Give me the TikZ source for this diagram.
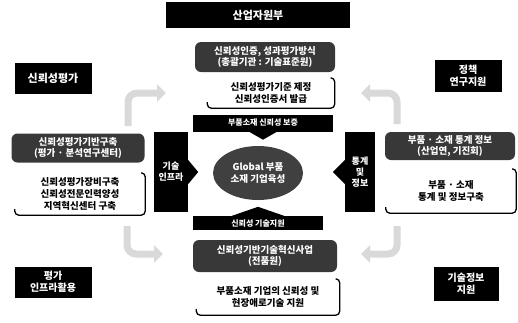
\documentclass[tikz,border=0pt]{standalone}
\usepackage{fontspec}
\setmainfont{Noto Sans CJK KR}
\usetikzlibrary{arrows.meta,shapes.geometric}
\begin{document}
\begin{tikzpicture}[x=1pt,y=-1pt,
  blk/.style={fill=black,text=white,font=\bfseries\fontsize{10}{12}\selectfont,align=center,inner sep=1pt},
  dk/.style={fill=black!78,rounded corners=6pt,text=white,font=\bfseries\fontsize{9.5}{11.5}\selectfont,align=center,inner sep=1pt},
  wt/.style={align=center,font=\bfseries\fontsize{9.5}{12}\selectfont,inner sep=1pt},
  brk/.style={draw=black,line width=1.3pt,rounded corners=4pt},
  barbox/.style={fill=black,text=white,font=\bfseries\fontsize{8}{10}\selectfont,inner sep=1pt},
  carr/.style={draw=gray!30,line width=7pt,rounded corners=9pt,-{Triangle[width=17pt,length=9pt]}}
]
\useasboundingbox (0,0) rectangle (518,322);

% centre column
\node[blk,minimum width=184pt,minimum height=26pt,font=\bfseries\fontsize{11}{13}\selectfont] (title) at (258,15) {산업자원부};
\node[dk,minimum width=140pt,minimum height=30pt] (tdk) at (265,57) {신뢰성인증, 성과평가방식\\(총괄기관 : 기술표준원)};
\node[wt,minimum width=127pt,minimum height=30pt] (twt) at (271,93) {신뢰성평가기준 제정\\신뢰성인증서 발급};
\node[barbox,minimum width=140pt,minimum height=17pt] (tbar) at (263,123) {부품소재 신뢰성 보증};
\fill ([xshift=-14pt]tbar.south) -- ([xshift=14pt]tbar.south) -- ([yshift=-8pt]tbar.south) -- cycle;

\node[blk,minimum width=34pt,minimum height=80pt,font=\bfseries\fontsize{9}{11}\selectfont] (lv) at (171,172) {기술\\인프라};
\fill ([yshift=12pt]lv.east) -- ([xshift=10pt]lv.east) -- ([yshift=-12pt]lv.east) -- cycle;
\node[blk,minimum width=30pt,minimum height=80pt,font=\bfseries\fontsize{9}{11}\selectfont] (rv) at (360,172) {통계\\및\\정보};
\fill ([yshift=12pt]rv.west) -- ([xshift=-12pt]rv.west) -- ([yshift=-12pt]rv.west) -- cycle;

\node[ellipse,fill=black!75,minimum width=90pt,minimum height=54pt,inner sep=0pt] (core) at (258,173) {};
\node[text=white,align=center,font=\bfseries\fontsize{9.5}{12}\selectfont,inner sep=0pt] (coretxt) at (core) {Global 부품\\소재 기업육성};

\node[barbox,minimum width=130pt,minimum height=14pt] (bbar) at (258,223) {신뢰성 기술지원};
\fill ([xshift=-26pt]bbar.north) -- ([xshift=26pt]bbar.north) -- ([yshift=9pt]bbar.north) -- cycle;
\node[dk,minimum width=144pt,minimum height=32pt] (bdk) at (265,256) {신뢰성기반기술혁신사업\\(전품원)};
\node[wt,minimum width=143pt,minimum height=36pt] (bwt) at (268,297) {부품소재 기업의 신뢰성 및\\현장애로기술 지원};

% left column
\node[blk,minimum width=77pt,minimum height=31pt,font=\bfseries\fontsize{11}{13}\selectfont] (lt) at (53,78) {신뢰성평가};
\node[dk,minimum width=133pt,minimum height=29pt] (ldk) at (78,148) {신뢰성평가기반구축\\(평가 · 분석연구센터)};
\node[wt,minimum width=130pt,minimum height=42pt] (lwt) at (80,194) {신뢰성평가장비구축\\신뢰성전문인력양성\\지역혁신센터 구축};
\node[blk,minimum width=77pt,minimum height=31pt] (lb) at (53,282) {평가\\인프라활용};

% right column
\node[blk,minimum width=67pt,minimum height=32pt] (rt) at (468,76) {정책\\연구지원};
\node[dk,minimum width=130pt,minimum height=28pt] (rdk) at (450,146) {부품 · 소재 통계 정보\\(산업연, 기진회)};
\node[wt,minimum width=130pt,minimum height=44pt] (rwt) at (451,191) {부품 · 소재\\통계 및 정보구축};
\node[blk,minimum width=65pt,minimum height=34pt] (rb) at (466,284) {기술정보\\지원};

% bracket borders of the white boxes
\foreach \n in {twt,bwt,lwt,rwt}{
  \draw[brk] ([xshift=-4pt]\n.north east) -- (\n.north east) -- (\n.south east) -- (\n.south west) -- ([yshift=6pt]\n.south west);
}

% curved grey arrows
\coordinate (a1s) at (128,126); \coordinate (a1e) at (166,93);
\coordinate (a2s) at (397,124); \coordinate (a2e) at (361,93);
\coordinate (a3s) at (127,226); \coordinate (a3e) at (163,254);
\coordinate (a4s) at (397,226); \coordinate (a4e) at (361,254);
\draw[carr] (a1s) |- (a1e);
\draw[carr] (a2s) |- (a2e);
\draw[carr] (a3s) |- (a3e);
\draw[carr] (a4s) |- (a4e);
\end{tikzpicture}
\end{document}
